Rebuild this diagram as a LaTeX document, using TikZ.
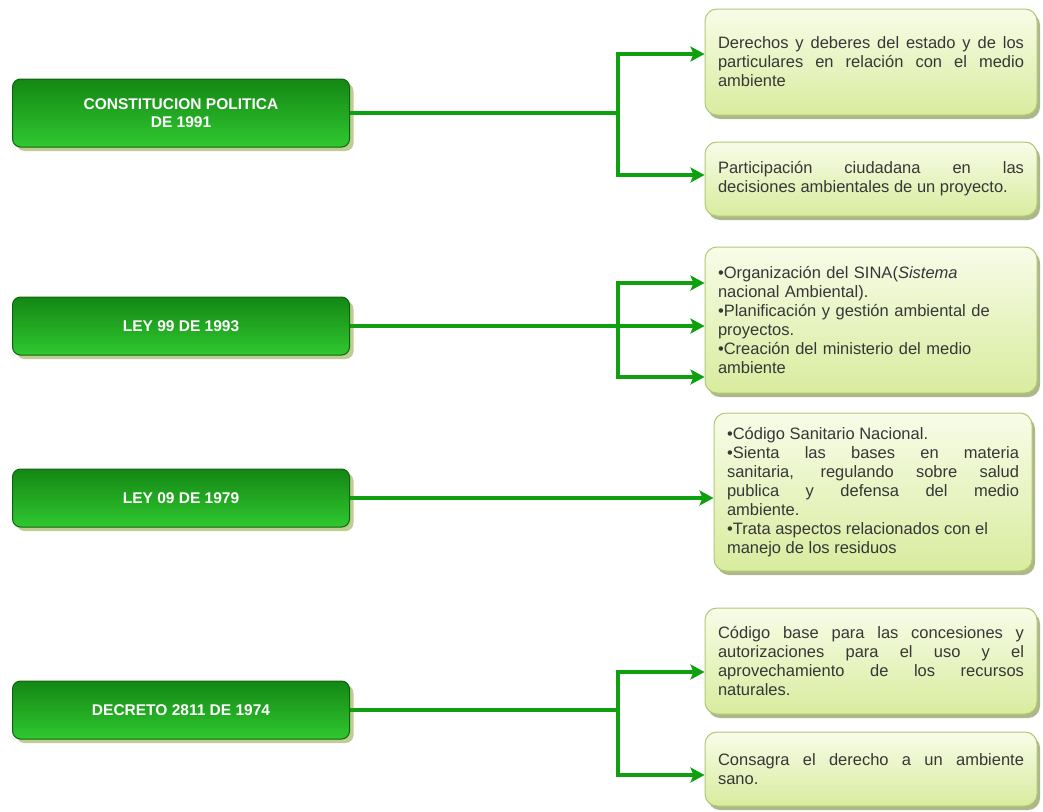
\documentclass[tikz,border=0pt]{standalone}
\usepackage{fontspec}
\setmainfont{Liberation Sans}
\usepackage{tikz}
\usetikzlibrary{shadows}
\usetikzlibrary{arrows.meta}
\usetikzlibrary{positioning}
\definecolor{lawdark}{RGB}{20,135,20}
\definecolor{lawmid}{RGB}{8,165,8}
\definecolor{lawlight}{RGB}{48,200,48}
\definecolor{lawedge}{RGB}{14,100,14}
\definecolor{lawshadow}{RGB}{190,205,145}
\definecolor{notetop}{RGB}{248,252,232}
\definecolor{notebottom}{RGB}{216,236,158}
\definecolor{noteedge}{RGB}{175,200,115}
\definecolor{noteshadow}{RGB}{165,175,125}
\definecolor{linkgreen}{RGB}{14,160,14}
\definecolor{notetext}{RGB}{55,55,55}
\tikzset{
  % arrow tip of all links
  >={Stealth[length=14pt,width=15pt,inset=3pt]},
  link/.style={draw=linkgreen, line width=3.5pt},
  linkarrow/.style={link, ->}
}

\begin{document}
\begin{tikzpicture}[x=1pt, y=-1pt]
    % Define styles
    \tikzstyle{law} = [rectangle, rounded corners=8pt, draw=lawedge, line width=1pt,
      top color=lawdark, middle color=lawmid, bottom color=lawlight,
      minimum width=337pt, minimum height=58pt, text=white, align=center,
      font=\fontsize{15.5}{18}\selectfont\bfseries,
      drop shadow={shadow xshift=4pt, shadow yshift=-4pt, fill=lawshadow, opacity=1}]
    \tikzstyle{note} = [rectangle, rounded corners=12pt, draw=noteedge, line width=1pt,
      top color=notetop, bottom color=notebottom, inner xsep=13pt,
      text width=306pt, text=notetext, align=justify,
      font=\fontsize{16.5}{19}\selectfont,
      drop shadow={shadow xshift=3pt, shadow yshift=-4pt, fill=noteshadow, opacity=0.9}]

    \useasboundingbox (0,0) rectangle (1043,811);

    % Place nodes
    \node [law, minimum height=68pt] (const) at (181,113) {CONSTITUCION POLITICA\\DE 1991};
    \node [law] (ley99) at (181,326) {LEY 99 DE 1993};
    \node [law] (ley09) at (181,498) {LEY 09 DE 1979};
    \node [law] (decreto) at (181,710) {DECRETO 2811 DE 1974};

    \node [note, minimum height=106pt] (derechos) at (871,62)
      {Derechos y deberes del estado y de los\linebreak particulares en relación con el medio\linebreak ambiente};
    \node [note, minimum height=74pt] (particip) at (871,179)
      {Participación ciudadana en las\linebreak decisiones ambientales de un proyecto.};
    \node [note, minimum height=146pt, align=left] (sina) at (871,320)
      {•Organización del SINA(\textit{Sistema}\\nacional Ambiental).\\•Planificación y gestión ambiental de\\proyectos.\\•Creación del ministerio del medio\\ambiente};
    \node [note, minimum height=158pt, text width=292pt] (sanitario) at (873,492)
      {•Código Sanitario Nacional.\par
       •Sienta las bases en materia\linebreak sanitaria, regulando sobre salud\linebreak publica y defensa del medio\linebreak ambiente.\par
       •Trata aspectos relacionados con el\newline manejo de los residuos};
    \node [note, minimum height=106pt] (codigo) at (871,661)
      {Código base para las concesiones y\linebreak autorizaciones para el uso y el\linebreak aprovechamiento de los recursos\linebreak naturales.};
    \node [note, minimum height=74pt] (sano) at (871,769)
      {Consagra el derecho a un ambiente\linebreak sano.};

    % Branch points
    \coordinate (k1) at (618,113);
    \coordinate (k2) at (618,326);
    \coordinate (k4) at (618,710);

    % Draw edges
    \draw [link] (const.east) -- (k1);
    \draw [linkarrow] (k1) |- ([yshift=8pt]derechos.west);
    \draw [linkarrow] (k1) |- ([yshift=4pt]particip.west);

    \draw [linkarrow] (ley99.east) -- (ley99.east -| sina.west);
    \draw [linkarrow] (k2) |- ([yshift=37pt]sina.west);
    \draw [linkarrow] (k2) |- ([yshift=-57pt]sina.west);

    \draw [linkarrow] (ley09.east) -- (ley09.east -| sanitario.west);

    \draw [link] (decreto.east) -- (k4);
    \draw [linkarrow] (k4) |- ([yshift=-11pt]codigo.west);
    \draw [linkarrow] (k4) |- ([yshift=-6pt]sano.west);
\end{tikzpicture}
\end{document}
